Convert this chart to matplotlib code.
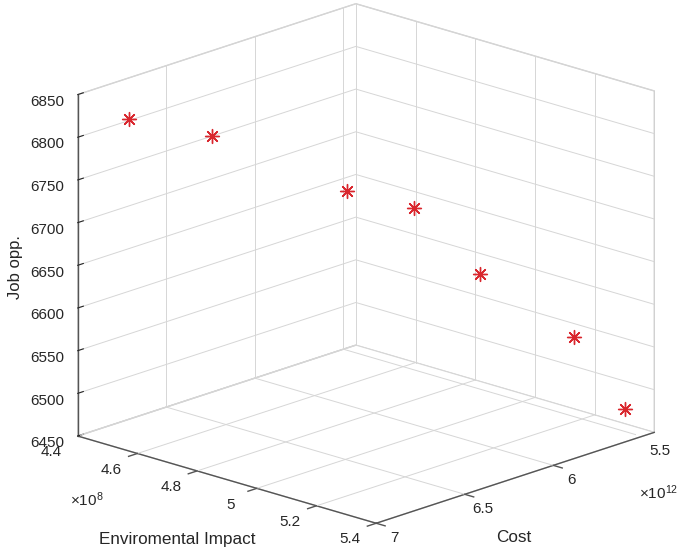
import matplotlib.pyplot as plt
from matplotlib.transforms import ScaledTranslation
from mpl_toolkits.mplot3d import proj3d
import numpy as np

plt.rcParams['font.family'] = ['Liberation Sans', 'DejaVu Sans']
plt.rcParams['mathtext.default'] = 'regular'

# values
env_impact = [4.49e8, 4.63e8, 4.87e8, 4.98e8, 5.10e8, 5.26e8, 5.35e8]
cost = [6.86e12, 6.63e12, 6.27e12, 6.08e12, 5.91e12, 5.65e12, 5.51e12]
job_opp = [6821, 6800, 6735, 6714, 6638, 6562, 6478]

env_ticks = [4.4, 4.6, 4.8, 5.0, 5.2, 5.4]
env_labels = ['4.4', '4.6', '4.8', '5', '5.2', '5.4']
cost_ticks = [5.5, 6.0, 6.5, 7.0]
cost_labels = ['5.5', '6', '6.5', '7']
job_ticks = [6450, 6500, 6550, 6600, 6650, 6700, 6750, 6800, 6850]

c_lo, c_hi = 5.43, 7.0
e_lo, e_hi = 4.4, 5.4
z_lo, z_hi = 6450, 6850
grid_kw = dict(color='#d6d6d6', linewidth=0.7)
tick_kw = dict(color='#555555', linewidth=1.0)

fig = plt.figure(figsize=(6.8, 5.56), dpi=100)
ax = fig.add_axes([0.0272, 0.0126, 1.0, 1.0], projection='3d')
ax.set_proj_type('ortho')

x = np.array(cost) / 1e12
y = np.array(env_impact) / 1e8

# grid on floor and back walls for cost / env (z grid comes from matplotlib)
for c in cost_ticks:
    if c < c_hi:  # the c_hi lines sit on the axis lines
        ax.plot([c, c], [e_lo, e_hi], [z_lo, z_lo], **grid_kw)
        ax.plot([c, c], [e_lo, e_lo], [z_lo, z_hi], **grid_kw)
    ax.plot([c, c], [e_hi, e_hi + 0.03], [z_lo, z_lo], **tick_kw)
for e in env_ticks:
    if e < e_hi:
        ax.plot([c_lo, c_hi], [e, e], [z_lo, z_lo], **grid_kw)
        ax.plot([c_lo, c_lo], [e, e], [z_lo, z_hi], **grid_kw)
    ax.plot([c_hi, c_hi + 0.05], [e, e], [z_lo, z_lo], **tick_kw)

ax.scatter(x, y, job_opp, marker=(8, 2, 0), s=100, c='#d9272e',
           linewidths=1.0, depthshade=False)

ax.set_xlim(c_lo, c_hi)
ax.set_ylim(e_lo, e_hi)
ax.set_zlim(z_lo, z_hi)
ax.set_xticks([])
ax.set_yticks([])
ax.set_zticks(job_ticks)

ax.view_init(elev=18.0, azim=43.4)
ax.set_box_aspect((403, 409, 357.5), zoom=1.186)

for axis in (ax.xaxis, ax.yaxis, ax.zaxis):
    axis.set_pane_color((1, 1, 1, 1))
    axis.pane.set_edgecolor('#d0d0d0')
    axis._axinfo['grid']['color'] = '#d6d6d6'
    axis._axinfo['grid']['linewidth'] = 0.7
    axis.line.set_color('#555555')
    axis.line.set_linewidth(1.0)
    axis._axinfo['tick']['color'] = '#555555'
    axis._axinfo['tick']['inward_factor'] = 0.0
    axis._axinfo['tick']['outward_factor'] = 0.25

ax.tick_params(axis='z', labelsize=11, colors='#262626', pad=3)

# tick labels placed by hand (MATLAB style), projected to 2D
fig.canvas.draw()
M = ax.get_proj()

# nudge the z tick labels up a little
nudge = ScaledTranslation(0, 4 / 72, fig.dpi_scale_trans)
for tk in ax.zaxis.get_major_ticks():
    tk.label1.set_transform(ax.transData + nudge)


def label_at(xv, yv, zv, s):
    px, py, _ = proj3d.proj_transform(xv, yv, zv, M)
    ax.text2D(px, py, s, transform=ax.transData, fontsize=11,
              color='#262626', ha='center', va='center')


for v, s in zip(env_ticks, env_labels):
    label_at(7.148, v, 6441, s)
for v, s in zip(cost_ticks, cost_labels):
    label_at(v, 5.46, 6439, s)

fig.text(0.0235, 0.52, 'Job opp.', fontsize=12, rotation=90,
         ha='center', va='center', color='#262626')
fig.text(0.26, 0.0288, 'Enviromental Impact', fontsize=12.3,
         ha='center', va='center', color='#262626')
fig.text(0.756, 0.0324, 'Cost', fontsize=12.3,
         ha='center', va='center', color='#262626')
fig.text(0.128, 0.1007, r'$\times10^{8}$', fontsize=11,
         ha='center', va='center', color='#262626')
fig.text(0.968, 0.113, r'$\times10^{12}$', fontsize=11,
         ha='center', va='center', color='#262626')

fig.savefig('out.png', dpi=100, facecolor='white')
